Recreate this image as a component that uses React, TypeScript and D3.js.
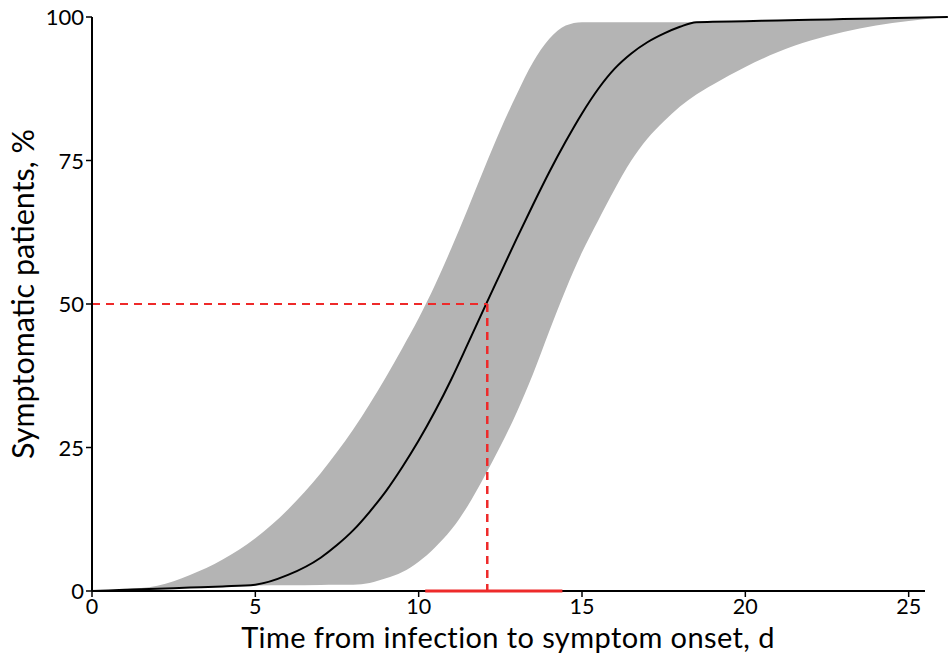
import { area, line, curveMonotoneX, scaleLinear } from "d3";

// days since infection, shared grid for the curve and its band
const days = [
  0, 1, 2, 3, 4, 5, 6, 7, 7.5, 8, 8.5, 9, 9.5, 10, 10.5, 11, 11.5, 12, 12.5, 13, 13.5, 14, 14.5, 15, 15.5,
  16, 16.5, 17, 17.5, 18, 18.5, 19, 20, 21, 22, 23, 24, 25, 26.2,
];
const median = [
  0, 0.2, 0.4, 0.6, 0.8, 1.1, 2.8, 5.8, 8, 10.6, 13.8, 17.4, 21.6, 26.2, 31.3, 36.9, 43, 49.2, 55.3, 61.4,
  67.3, 73, 78.3, 83.2, 87.5, 91, 93.6, 95.6, 97.1, 98.3, 99.1, 99.16, 99.28, 99.39, 99.51, 99.63, 99.74,
  99.86, 100,
];
const upper = [
  0, 0.3, 0.9, 2.8, 5.5, 9.2, 14.2, 20.5, 24.2, 28.2, 32.6, 37.3, 42.3, 47.5, 53.3, 59.7, 66.5, 73.5, 80.3,
  86.5, 92.1, 96.2, 98.5, 99.1, 99.1, 99.1, 99.1, 99.1, 99.1, 99.1, 99.1, 99.16, 99.28, 99.39, 99.51, 99.63,
  99.74, 99.86, 100,
];
const lower = [
  0, 0.2, 0.4, 0.6, 0.8, 0.95, 1.0, 1.05, 1.08, 1.1, 1.4, 2.2, 3.3, 5.1, 7.6, 10.7, 14.8, 19.8, 25.2,
  31.1, 37.8, 45.3, 52.5, 59, 64.6, 70, 74.9, 78.8, 81.8, 84.4, 86.5, 88.2, 91.3, 93.9, 95.9, 97.4, 98.5,
  99.3, 100,
];

const xTicks = [0, 5, 10, 15, 20, 25];
const yTicks = [0, 25, 50, 75, 100];
const medianDay = 12.1;
const ciDays = [10.2, 14.4];

const W = 949,
  H = 655;
const FONT = "Lato, 'Open Sans', sans-serif";

export default function App() {
  const x = scaleLinear().domain([0, 25.5]).range([92, 925]);
  const y = scaleLinear().domain([0, 100]).range([591, 17]);

  const band = area<number>()
    .x((_d, i) => x(days[i]))
    .y0((_d, i) => y(lower[i]))
    .y1((d) => y(d))
    .curve(curveMonotoneX);
  const mid = line<number>()
    .x((_d, i) => x(days[i]))
    .y((d) => y(d))
    .curve(curveMonotoneX);

  const red = "#ee2a2a";

  return (
    <svg width={W} height={H} style={{ position: "absolute", left: 0, top: 0, background: "#fff" }}>
      <path d={band(upper) || ""} fill="#b4b4b4" />
      <path d={mid(median) || ""} fill="none" stroke="#000" strokeWidth={2} strokeLinejoin="round" />

      {/* median marker */}
      <line x1={x(0)} x2={x(medianDay)} y1={y(50)} y2={y(50)} stroke={red} strokeWidth={2} strokeDasharray="8,6" />
      <line x1={x(medianDay)} x2={x(medianDay)} y1={y(50)} y2={y(0)} stroke={red} strokeWidth={2.5} strokeDasharray="8,6" />

      {/* axes */}
      <line x1={x(0)} x2={x(25.5)} y1={y(0)} y2={y(0)} stroke="#000" strokeWidth={2} />
      <line x1={x(0)} x2={x(0)} y1={y(0)} y2={y(100)} stroke="#000" strokeWidth={2} />
      <line x1={x(ciDays[0])} x2={x(ciDays[1])} y1={y(0)} y2={y(0)} stroke={red} strokeWidth={3} />

      {xTicks.map((t) => (
        <g key={"x" + t}>
          <line x1={x(t)} x2={x(t)} y1={y(0)} y2={y(0) + 6} stroke="#000" strokeWidth={1.5} />
          <text x={x(t)} y={614} textAnchor="middle" fontFamily={FONT} fontSize={21.5} fill="#000">
            {t}
          </text>
        </g>
      ))}
      {yTicks.map((t) => (
        <g key={"y" + t}>
          <line x1={x(0) - 6} x2={x(0)} y1={y(t)} y2={y(t)} stroke="#000" strokeWidth={1.5} />
          <text x={84} y={y(t) + 8} textAnchor="end" fontFamily={FONT} fontSize={22} fill="#000">
            {t}
          </text>
        </g>
      ))}

      <text
        x={508}
        y={648}
        textAnchor="middle"
        fontFamily={FONT}
        fontSize={29}
        letterSpacing={0.4}
        fill="#000"
      >
        Time from infection to symptom onset, d
      </text>
      <text
        transform={`translate(34,294) rotate(-90)`}
        textAnchor="middle"
        fontFamily={FONT}
        fontSize={30.5}
        fill="#000"
      >
        Symptomatic patients, %
      </text>
    </svg>
  );
}
